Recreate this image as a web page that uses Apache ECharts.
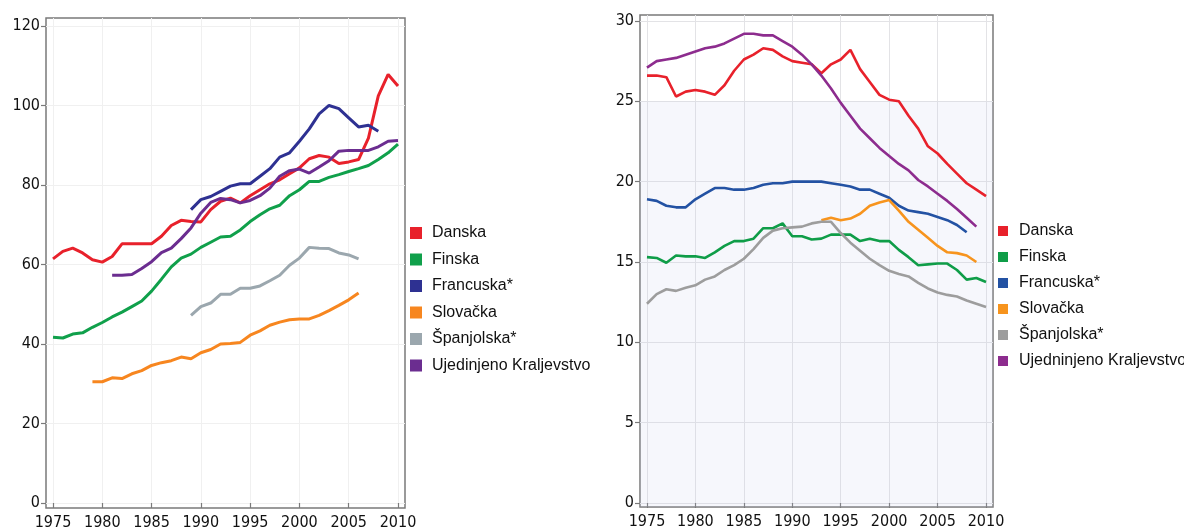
<!DOCTYPE html>
<html>
<head>
<meta charset="utf-8">
<script src="https://cdn.jsdelivr.net/npm/echarts@6/dist/echarts.min.js"></script>
<style>
  html, body { margin: 0; padding: 0; background: #fff; }
  #wrap { position: relative; width: 1184px; height: 532px; overflow: hidden; }
  .chart { position: absolute; top: 0; height: 532px; }
</style>
</head>
<body>
<div id="wrap">
  <div id="left-chart" class="chart" style="left:0;width:600px"></div>
  <div id="right-chart" class="chart" style="left:592px;width:592px"></div>
</div>
<script>
const years = [];
for (let y = 1975; y <= 2010; y++) years.push(y);

const xTicks = [1975, 1980, 1985, 1990, 1995, 2000, 2005, 2010];
const yTicksLeft = [0, 20, 40, 60, 80, 100, 120];
const yTicksRight = [0, 5, 10, 15, 20, 25, 30];

const namesLeft = ['Danska', 'Finska', 'Francuska*', 'Slovačka', 'Španjolska*', 'Ujedinjeno Kraljevstvo'];
const namesRight = ['Danska', 'Finska', 'Francuska*', 'Slovačka', 'Španjolska*', 'Ujedninjeno Kraljevstvo'];

// left chart, 1975..2010
const danskaL = [61.4,63.3,64.1,62.9,61.2,60.6,62.0,65.2,65.2,65.2,65.2,67.1,69.8,71.1,70.8,70.7,73.8,75.9,76.7,75.5,77.3,78.8,80.3,81.3,82.8,84.3,86.6,87.4,87.0,85.4,85.8,86.4,91.8,102.4,107.8,104.9];
const finskaL = [41.7,41.5,42.5,42.8,44.2,45.4,46.8,48.0,49.4,50.8,53.3,56.3,59.4,61.6,62.6,64.3,65.6,66.9,67.1,68.7,70.8,72.5,74.0,74.9,77.3,78.8,80.9,80.9,81.9,82.6,83.4,84.1,84.9,86.4,88.1,90.3];
const francuskaL = [null,null,null,null,null,null,null,null,null,null,null,null,null,null,
  73.8,76.3,77.1,78.4,79.7,80.3,80.3,82.2,84.1,87.0,88.1,91.0,94.1,97.9,100.0,99.2,96.9,94.6,95.0,93.5,null,null];
const slovackaL = [null,null,null,null,
  30.5,30.5,31.5,31.3,32.5,33.3,34.6,35.3,35.8,36.7,36.3,37.8,38.6,40.0,40.1,40.4,42.2,43.3,44.7,45.5,46.1,46.3,46.3,47.2,48.4,49.7,51.1,52.8,null,null,null,null];
const spanjolskaL = [null,null,null,null,null,null,null,null,null,null,null,null,null,null,
  47.2,49.4,50.3,52.5,52.5,54.0,54.0,54.6,55.9,57.3,59.8,61.6,64.3,64.1,64.0,62.9,62.4,61.4,null,null,null,null];
const ukL = [null,null,null,null,null,null,
  57.3,57.3,57.5,59.0,60.7,63.0,64.1,66.5,69.2,72.9,75.6,76.6,76.3,75.5,76.1,77.3,79.2,82.2,83.6,84.0,83.0,84.5,86.1,88.5,88.7,88.7,88.7,89.6,91.0,91.2];

// right chart, 1975..2010
const danskaR = [26.6,26.6,26.5,25.3,25.6,25.7,25.6,25.4,26.0,26.9,27.6,27.9,28.3,28.2,27.8,27.5,27.4,27.3,26.75,27.3,27.6,28.2,27.0,26.2,25.4,25.1,25.0,24.1,23.3,22.2,21.75,21.1,20.5,19.9,19.5,19.1];
const finskaR = [15.3,15.25,14.95,15.4,15.35,15.35,15.25,15.6,16.0,16.3,16.3,16.45,17.1,17.1,17.4,16.6,16.6,16.4,16.45,16.7,16.7,16.7,16.3,16.45,16.3,16.3,15.75,15.3,14.8,14.85,14.9,14.9,14.5,13.9,14.0,13.75];
const francuskaR = [18.9,18.8,18.5,18.4,18.4,18.9,19.25,19.6,19.6,19.5,19.5,19.6,19.8,19.9,19.9,20.0,20.0,20.0,20.0,19.9,19.8,19.7,19.5,19.5,19.25,19.0,18.5,18.2,18.1,18.0,17.8,17.6,17.3,16.85,null,null];
const slovackaR = [null,null,null,null,null,null,null,null,null,null,null,null,null,null,null,null,null,null,
  17.6,17.75,17.6,17.7,18.0,18.5,18.7,18.85,18.2,17.5,17.0,16.5,16.0,15.6,15.55,15.4,15.0,null];
const spanjolskaR = [12.4,13.0,13.3,13.2,13.4,13.55,13.9,14.1,14.5,14.8,15.2,15.8,16.5,16.95,17.1,17.15,17.2,17.4,17.5,17.5,16.8,16.2,15.7,15.2,14.8,14.45,14.25,14.1,13.7,13.35,13.1,12.95,12.85,12.6,12.4,12.2];
const ukR = [27.1,27.5,27.6,27.7,27.9,28.1,28.3,28.4,28.6,28.9,29.2,29.2,29.1,29.1,28.75,28.4,27.9,27.3,26.6,25.8,24.9,24.1,23.3,22.7,22.1,21.6,21.1,20.7,20.1,19.7,19.25,18.8,18.3,17.75,17.2,null];

const colorsLeft = ['#e8212b', '#10a04b', '#2e3192', '#f7861f', '#9ba7ae', '#6b2d90'];
const colorsRight = ['#e8212b', '#0f9d48', '#2352a3', '#f7941d', '#9d9d9d', '#8d2c8e'];

const tickFont = "'DejaVu Sans Condensed', 'Liberation Sans', sans-serif";
const legendFont = "'Liberation Sans', Arial, sans-serif";

const pairs = (vals) => years.map((y, i) => [y, vals[i]]);

const buildOption = (cfg) => ({
  animation: false,
  grid: {
    left: cfg.grid[0], top: cfg.grid[1], width: cfg.grid[2], height: cfg.grid[3],
    show: true, borderColor: '#7a7a7a', borderWidth: 1.5, backgroundColor: 'transparent',
  },
  legend: {
    orient: 'vertical',
    left: cfg.legendLeft,
    top: cfg.legendTop,
    padding: 0,
    icon: 'rect',
    itemWidth: cfg.iconSize,
    itemHeight: cfg.iconSize,
    itemGap: cfg.legendGap,
    data: cfg.names.map((n, i) => ({ name: n, itemStyle: { color: cfg.colors[i] } })),
    textStyle: {
      fontFamily: legendFont, fontSize: 16, color: '#111', lineHeight: 16,
      padding: [0, 0, 0, cfg.textPad],
    },
  },
  xAxis: {
    type: 'value',
    min: cfg.xMin,
    max: cfg.xMax,
    axisLine: { show: false },
    axisTick: { show: true, length: 5, customValues: xTicks, lineStyle: { color: '#7a7a7a', width: 1.2 } },
    axisLabel: {
      customValues: xTicks, margin: 7, color: '#111',
      fontFamily: tickFont, fontSize: 16, formatter: (v) => String(v),
    },
    splitLine: { show: true, lineStyle: { color: cfg.gridColor, width: 1 } },
  },
  yAxis: {
    type: 'value',
    min: cfg.yMin,
    max: cfg.yMax,
    axisLine: { show: false },
    axisTick: { show: true, length: 5, customValues: cfg.yTicks, lineStyle: { color: '#7a7a7a', width: 1.2 } },
    axisLabel: {
      customValues: cfg.yTicks, margin: 6, color: '#111',
      fontFamily: tickFont, fontSize: 16,
    },
    splitLine: { show: true, lineStyle: { color: cfg.gridColor, width: 1 } },
  },
  series: cfg.data.map((vals, i) => ({
    name: cfg.names[i],
    type: 'line',
    data: pairs(vals),
    showSymbol: false,
    symbol: 'none',
    connectNulls: false,
    lineStyle: { color: cfg.colors[i], width: cfg.lineWidth },
    itemStyle: { color: cfg.colors[i] },
    markArea: i === 0 && cfg.band ? {
      silent: true,
      itemStyle: { color: cfg.band.color },
      data: [[{ yAxis: cfg.yMin }, { yAxis: cfg.band.top }]],
    } : undefined,
  })),
});

const initChart = (id, option) => {
  const dom = document.getElementById(id);
  if (!dom) return;
  const chart = echarts.init(dom, null, { renderer: 'canvas' });
  chart.setOption(option);
};

initChart('left-chart', buildOption({
  grid: [46, 18, 359, 490],
  xMin: 1974.29, xMax: 2010.71,
  yMin: -1.26, yMax: 122,
  yTicks: yTicksLeft,
  names: namesLeft,
  colors: colorsLeft,
  data: [danskaL, finskaL, francuskaL, slovackaL, spanjolskaL, ukL],
  lineWidth: 3,
  gridColor: '#f0f0f0',
  legendLeft: 410, legendTop: 225, iconSize: 12, legendGap: 10.5, textPad: 5,
}));

initChart('right-chart', buildOption({
  grid: [48, 15, 353, 492],
  xMin: 1974.28, xMax: 2010.72,
  yMin: -0.25, yMax: 30.37,
  yTicks: yTicksRight,
  names: namesRight,
  colors: colorsRight,
  data: [danskaR, finskaR, francuskaR, slovackaR, spanjolskaR, ukR],
  lineWidth: 2.6,
  gridColor: '#e3e3e6',
  band: { top: 25, color: 'rgba(190,200,232,0.14)' },
  legendLeft: 406, legendTop: 223, iconSize: 10, legendGap: 10, textPad: 6,
}));
</script>
</body>
</html>
